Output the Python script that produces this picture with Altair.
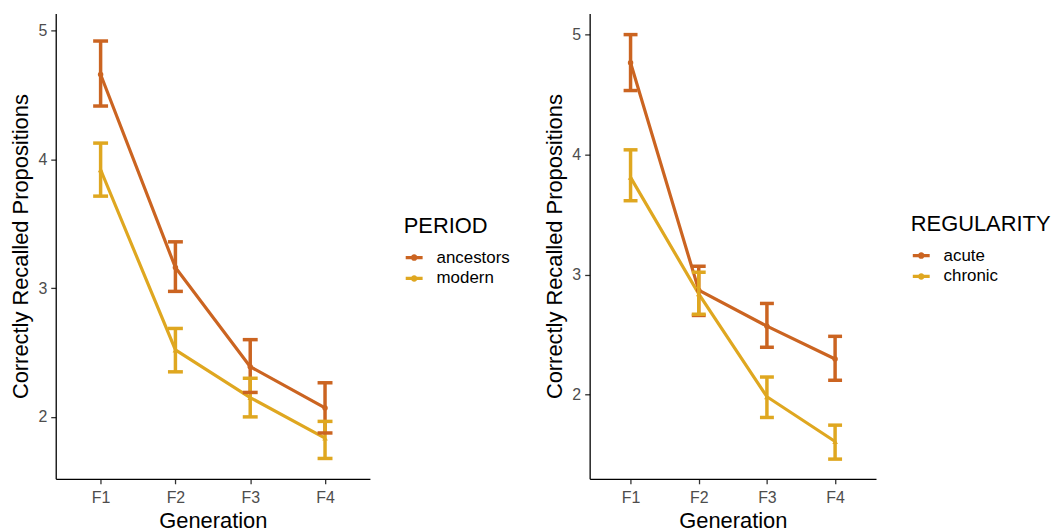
import altair as alt
import pandas as pd

generations = ["F1", "F2", "F3", "F4"]

period_levels = ["ancestors", "modern"]
ancestors_mean = [4.66, 3.16, 2.39, 2.07]
ancestors_lo = [4.415, 2.975, 2.19, 1.875]
ancestors_hi = [4.92, 3.36, 2.60, 2.265]
modern_mean = [3.92, 2.52, 2.15, 1.835]
modern_lo = [3.715, 2.35, 2.00, 1.677]
modern_hi = [4.127, 2.687, 2.30, 1.965]

regularity_levels = ["acute", "chronic"]
acute_mean = [4.766, 2.87, 2.571, 2.297]
acute_lo = [4.534, 2.66, 2.395, 2.12]
acute_hi = [5.0, 3.07, 2.76, 2.486]
chronic_mean = [3.81, 2.84, 1.983, 1.61]
chronic_lo = [3.616, 2.67, 1.81, 1.463]
chronic_hi = [4.04, 3.02, 2.147, 1.746]

ORANGE = "#CB6421"
GOLD = "#DFA720"
FONT = "Liberation Sans"

LEGEND_PATH = "M-1,0L1,0M0.2,0A0.2,0.2 0 1,1 -0.2,0A0.2,0.2 0 1,1 0.2,0"


def make_df(levels, means, los, his):
    rows = []
    for lev, m, lo, hi in zip(levels, means, los, his):
        for g, a, b, c in zip(generations, m, lo, hi):
            rows.append({"Generation": g, "group": lev,
                         "mean": a, "lo": b, "hi": c})
    return pd.DataFrame(rows)


def panel(df, title, levels, width, height, ydom, cap, lx, ly, ytitle_pad):
    cscale = alt.Scale(domain=levels, range=[ORANGE, GOLD])
    color_leg = alt.Color(
        "group:N",
        title=title,
        scale=cscale,
        legend=alt.Legend(
            orient="none", legendX=lx, legendY=ly,
            symbolType=LEGEND_PATH, symbolSize=289, symbolStrokeWidth=3.2,
            symbolOpacity=1, labelOffset=12, titlePadding=9, rowPadding=2,
        ),
    )
    color = alt.Color("group:N", title=title, scale=cscale, legend=None)
    x = alt.X("Generation:N", sort=generations,
              scale=alt.Scale(type="point", padding=0.6),
              axis=alt.Axis(title="Generation", labelAngle=0, titlePadding=5, labelPadding=6))
    yscale = alt.Scale(domain=ydom, nice=False, zero=False)
    yaxis = alt.Axis(title="Correctly Recalled Propositions", values=[2, 3, 4, 5],
                     format="d", titlePadding=ytitle_pad)
    ttl = "Correctly Recalled Propositions"
    base = alt.Chart(df)
    line = base.mark_line(strokeWidth=3.2, opacity=1).encode(
        x=x, y=alt.Y("mean:Q", scale=yscale, axis=yaxis, title=ttl), color=color_leg)
    pts_a = base.transform_filter(alt.datum.group == levels[0]).mark_point(
        shape="circle", filled=True, size=30, opacity=1).encode(
        x=x, y=alt.Y("mean:Q", title=ttl), color=color)
    pts_b = base.transform_filter(alt.datum.group == levels[1]).mark_point(
        shape="triangle-up", filled=True, size=32, opacity=1).encode(
        x=x, y=alt.Y("mean:Q", title=ttl), color=color)
    rule = base.mark_rule(strokeWidth=3.5, opacity=1).encode(
        x=x, y=alt.Y("lo:Q", title=ttl), y2="hi:Q", color=color)
    cap_lo = base.mark_tick(thickness=3.5, size=cap, opacity=1).encode(
        x=x, y=alt.Y("lo:Q", title=ttl), color=color)
    cap_hi = base.mark_tick(thickness=3.5, size=cap, opacity=1).encode(
        x=x, y=alt.Y("hi:Q", title=ttl), color=color)
    return alt.layer(line, pts_a, pts_b, rule, cap_lo, cap_hi).properties(width=width, height=height)


left = panel(make_df(period_levels, [ancestors_mean, modern_mean], [ancestors_lo, modern_lo], [ancestors_hi, modern_hi]),
             "PERIOD", period_levels, 316, 468, [1.519, 5.134], 15, 350, 204, 5)
right = panel(make_df(regularity_levels, [acute_mean, chronic_mean], [acute_lo, chronic_lo], [acute_hi, chronic_hi]),
              "REGULARITY", regularity_levels, 288, 468, [1.299, 5.176], 14, 323, 202, 5)

chart = alt.hconcat(left, right, spacing=34).resolve_scale(
    color="independent", x="independent", y="independent"
).properties(
    padding={"left": 2, "top": 4, "right": 0, "bottom": 0}
).configure_view(stroke=None).configure_axis(
    labelFont=FONT, titleFont=FONT, labelFontSize=16, titleFontSize=22,
    labelColor="#4D4D4D", titleColor="#000000", titleFontWeight="normal",
    domainColor="#000000", tickColor="#333333", domainWidth=1.3, tickWidth=1.3,
    tickSize=5, labelPadding=4, grid=False,
).configure_legend(
    titleFont=FONT, labelFont=FONT, titleFontSize=22, labelFontSize=17,
    titleFontWeight="normal", titleColor="#000000", labelColor="#000000",
)

chart.save("out.html", embed_options={"renderer": "svg", "actions": False})
